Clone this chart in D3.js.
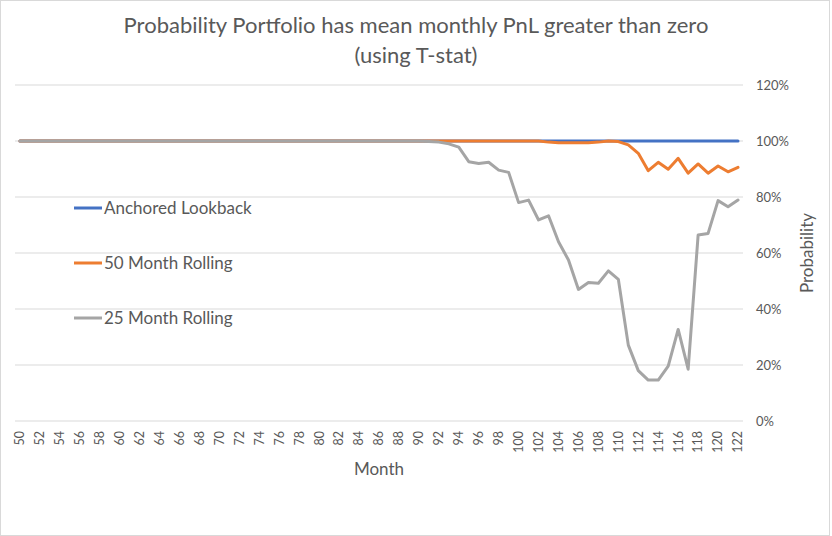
<!DOCTYPE html>
<html>
<head>
<meta charset="utf-8">
<script src="https://cdn.jsdelivr.net/npm/d3@7"></script>
<style>
  body { margin: 0; background: #fff; }
  text { font-family: Lato, "Open Sans", sans-serif; fill: #595959; }
</style>
</head>
<body>
<script>
  // months 50..122
  var months = d3.range(50, 123);

  var anchored = months.map(function() { return 1; });

  var rolling50 = [
    1, 1, 1, 1, 1, 1, 1, 1, 1, 1,          // 50-59
    1, 1, 1, 1, 1, 1, 1, 1, 1, 1,          // 60-69
    1, 1, 1, 1, 1, 1, 1, 1, 1, 1,          // 70-79
    1, 1, 1, 1, 1, 1, 1, 1, 1, 1,          // 80-89
    1, 1, 1, 1, 1, 1, 1, 1, 1, 1,          // 90-99
    1, 1, 1, 0.996, 0.994, 0.994, 0.994, 0.994, 0.996, 1,   // 100-109
    0.998, 0.986, 0.956, 0.894, 0.924, 0.899, 0.938, 0.885, 0.918, 0.885, // 110-119
    0.911, 0.89, 0.906                     // 120-122
  ];

  var rolling25 = [
    1, 1, 1, 1, 1, 1, 1, 1, 1, 1,          // 50-59
    1, 1, 1, 1, 1, 1, 1, 1, 1, 1,          // 60-69
    1, 1, 1, 1, 1, 1, 1, 1, 1, 1,          // 70-79
    1, 1, 1, 1, 1, 1, 1, 1, 1, 1,          // 80-89
    1, 0.998, 0.996, 0.99, 0.978, 0.926, 0.92, 0.924, 0.896, 0.888, // 90-99
    0.78, 0.789, 0.718, 0.733, 0.64, 0.575, 0.47, 0.495, 0.492, 0.536, // 100-109
    0.506, 0.271, 0.18, 0.146, 0.146, 0.196, 0.327, 0.185, 0.664, 0.67, // 110-119
    0.787, 0.765, 0.789                    // 120-122
  ];

  var series = [
    { name: "Anchored Lookback", values: anchored, color: "#4472C4" },
    { name: "50 Month Rolling", values: rolling50, color: "#ED7D31" },
    { name: "25 Month Rolling", values: rolling25, color: "#A5A5A5" }
  ];

  var yTicks = [0, 0.2, 0.4, 0.6, 0.8, 1.0, 1.2];

  var W = 832, H = 536;
  var plotL = 15, plotR = 743, plotT = 85, plotB = 421;

  var svg = d3.select("body").append("svg")
    .attr("width", W)
    .attr("height", H);

  svg.append("rect")
    .attr("x", 0.5).attr("y", 0.5)
    .attr("width", W - 3).attr("height", H - 1)
    .attr("fill", "#fff")
    .attr("stroke", "#d9d9d9");

  var x = d3.scaleBand().domain(months).range([plotL, plotR]);
  var y = d3.scaleLinear().domain([0, 1.2]).range([plotB, plotT]);

  // gridlines
  svg.append("g").selectAll("line")
    .data(yTicks)
    .enter().append("line")
    .attr("x1", plotL).attr("x2", plotR)
    .attr("y1", function(d) { return y(d); })
    .attr("y2", function(d) { return y(d); })
    .attr("stroke", "#d9d9d9")
    .attr("stroke-width", 1);

  // right y axis labels
  var yAxis = d3.axisRight(y)
    .tickValues(yTicks)
    .tickSize(0)
    .tickPadding(13)
    .tickFormat(d3.format(".0%"));
  var ya = svg.append("g")
    .attr("transform", "translate(" + plotR + ",0)")
    .call(yAxis);
  ya.select(".domain").remove();
  ya.selectAll("text")
    .style("font-family", "Lato, sans-serif")
    .style("font-size", "13px")
    .style("fill", "#595959");

  // x axis labels (every 2 months, rotated)
  var xAxis = d3.axisBottom(x)
    .tickValues(months.filter(function(m) { return m % 2 == 0; }))
    .tickSize(0);
  var xa = svg.append("g")
    .attr("transform", "translate(0," + plotB + ")")
    .call(xAxis);
  xa.select(".domain").remove();
  xa.selectAll("text")
    .attr("transform", "rotate(-90)")
    .attr("text-anchor", "end")
    .attr("x", -10)
    .attr("y", 0)
    .attr("dy", "0.35em")
    .style("font-family", "Lato, sans-serif")
    .style("font-size", "12.5px")
    .style("fill", "#595959");

  // lines
  var line = d3.line()
    .x(function(d, i) { return x(months[i]) + x.bandwidth() / 2; })
    .y(function(d) { return y(d); });

  svg.append("g").selectAll("path")
    .data(series)
    .enter().append("path")
    .attr("d", function(s) { return line(s.values); })
    .attr("fill", "none")
    .attr("stroke", function(s) { return s.color; })
    .attr("stroke-width", 3)
    .attr("stroke-linejoin", "round")
    .attr("stroke-linecap", "round");

  // legend
  var lg = svg.append("g").selectAll("g")
    .data(series)
    .enter().append("g")
    .attr("transform", function(d, i) { return "translate(74," + (208 + i * 55) + ")"; });
  lg.append("line")
    .attr("x1", 0).attr("x2", 28)
    .attr("stroke", function(d) { return d.color; })
    .attr("stroke-width", 3);
  lg.append("text")
    .attr("x", 30)
    .attr("dy", "0.35em")
    .style("font-size", "17px")
    .text(function(d) { return d.name; });

  // title
  svg.append("text")
    .attr("x", 416).attr("y", 33)
    .attr("text-anchor", "middle")
    .style("font-size", "22px")
    .text("Probability Portfolio has mean monthly PnL greater than zero");
  svg.append("text")
    .attr("x", 416).attr("y", 63)
    .attr("text-anchor", "middle")
    .style("font-size", "22px")
    .text("(using T-stat)");

  // axis titles
  svg.append("text")
    .attr("x", 379).attr("y", 475)
    .attr("text-anchor", "middle")
    .style("font-size", "17px")
    .text("Month");
  svg.append("text")
    .attr("transform", "translate(813,253) rotate(-90)")
    .attr("text-anchor", "middle")
    .style("font-size", "17px")
    .text("Probability");
</script>
</body>
</html>
